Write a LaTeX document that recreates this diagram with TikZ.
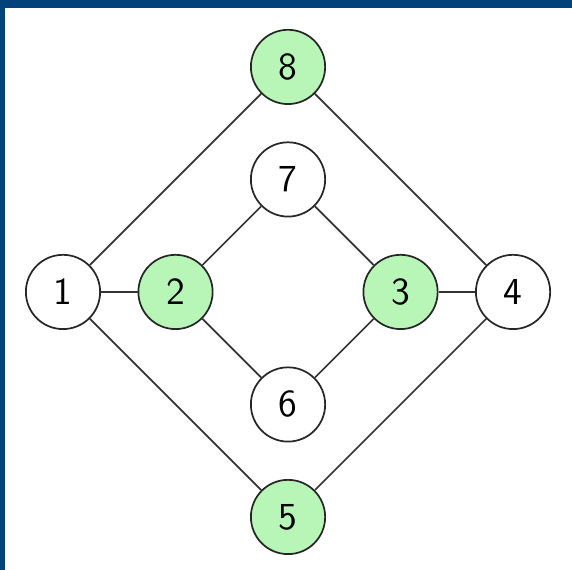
\documentclass[tikz,border=0pt]{standalone}
\usetikzlibrary{positioning}
\definecolor{framebl}{RGB}{2,65,122}
\definecolor{vgreen}{RGB}{184,246,184}
\begin{document}
\begin{tikzpicture}[x=1.5cm, y=1.5cm,
    vertex/.style={circle, draw=black!85, line width=0.65pt, minimum size=0.99cm,
        inner sep=0pt, font=\sffamily\fontsize{14.5}{17}\selectfont},
    marked/.style={vertex, fill=vgreen},
    edge/.style={draw=black!80, line width=0.65pt}]
    % 1. Khung nen
    \useasboundingbox (-2.56, -2.471) rectangle (2.524, 2.595);
    \fill[white] (-2.56, -2.471) rectangle (2.524, 2.595);
    \fill[framebl] (-2.56, 2.524) rectangle (2.524, 2.595);
    \fill[framebl] (-2.56, -2.471) rectangle (-2.516, 2.595);

    % 2. Cac dinh
    \node[vertex] (v1) at (-2, 0) {1};
    \node[marked] (v2) at (-1, 0) {2};
    \node[marked] (v3) at (1, 0) {3};
    \node[vertex] (v4) at (2, 0) {4};
    \node[marked] (v5) at (0, -2) {5};
    \node[vertex] (v6) at (0, -1) {6};
    \node[vertex] (v7) at (0, 1) {7};
    \node[marked] (v8) at (0, 2) {8};

    % 3. Cac canh
    \foreach \a/\b in {v1/v8, v1/v2, v1/v5, v2/v7, v2/v6, v7/v3, v6/v3, v3/v4, v8/v4, v5/v4} {
        \draw[edge] (\a) -- (\b);
    }
\end{tikzpicture}
\end{document}
